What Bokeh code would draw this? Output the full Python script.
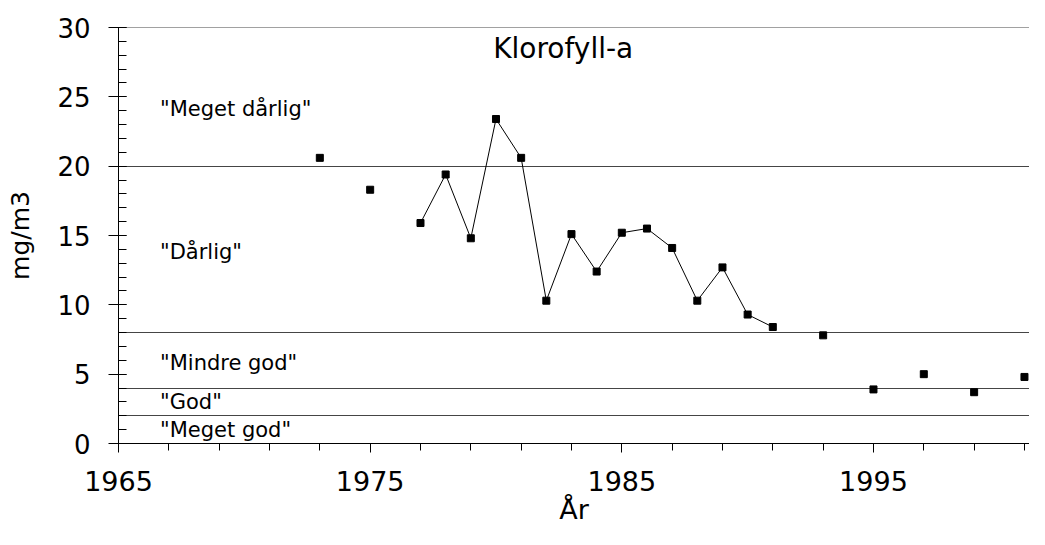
import math
from bokeh.plotting import figure
from bokeh.models import FixedTicker, ColumnDataSource, Range1d, SingleIntervalTicker
from bokeh.core.properties import value
from bokeh.embed import file_html
from bokeh.resources import INLINE

# ---- data ----
years = [1973, 1975, 1977, 1978, 1979, 1980, 1981, 1982, 1983, 1984, 1985,
         1986, 1987, 1988, 1989, 1990, 1991, 1993, 1995, 1997, 1999, 2001]
chl = [20.6, 18.3, 15.9, 19.4, 14.8, 23.4, 20.6, 10.3, 15.1, 12.4, 15.2,
       15.5, 14.1, 10.3, 12.7, 9.3, 8.4, 7.8, 3.9, 5.0, 3.7, 4.8]

x_major_ticks = [1965, 1975, 1985, 1995]
x_minor_ticks = list(range(1965, 2003, 2))

class_limits = [2, 4, 8, 20, 30]
class_names = ['"Meget dårlig"', '"Dårlig"', '"Mindre god"', '"God"', '"Meget god"']
class_label_y = [24.1, 13.8, 5.8, 3.0, 1.0]

title_text = "Klorofyll-a"
x_label = "År"
y_label = "mg/m3"

FONT = "DejaVu Sans"

p = figure(width=1029, height=529, output_backend="svg", toolbar_location=None,
           x_range=Range1d(1965, 2001.2), y_range=Range1d(0, 30),
           min_border_left=118, min_border_top=27, min_border_right=0,
           min_border_bottom=86)
p.outline_line_color = None
p.xgrid.visible = False
p.ygrid.visible = False
p.background_fill_color = "white"
p.border_fill_color = "white"

# class boundaries
p.hspan(y=class_limits, line_color="#454545", line_width=1)

# connected line only for consecutive years
lx, ly = [], []
for i, (yr, v) in enumerate(zip(years, chl)):
    if i > 0 and yr - years[i - 1] > 1:
        lx.append(math.nan)
        ly.append(math.nan)
    lx.append(yr)
    ly.append(v)
p.line(lx, ly, line_color="black", line_width=1)
p.scatter(years, chl, marker="square", size=7, color="black")

# class labels
src = ColumnDataSource(dict(x=[1966.65] * len(class_names), y=class_label_y, t=class_names))
p.text(x="x", y="y", text="t", source=src, text_font=value(FONT),
       text_font_size="21px", text_baseline="middle", text_align="left", text_color="black")

# title inside plot
p.text(x=[1982.67], y=[28.45], text=[title_text], text_font=value(FONT),
       text_font_size="28px", text_baseline="middle", text_align="center", text_color="black")

# axes
xa = p.xaxis[0]
xa.ticker = FixedTicker(ticks=x_major_ticks, minor_ticks=x_minor_ticks)
xa.axis_label = x_label
xa.axis_line_color = "black"
xa.major_tick_line_color = "black"
xa.minor_tick_line_color = "black"
xa.major_tick_in = 0
xa.major_tick_out = 9
xa.minor_tick_in = 0
xa.minor_tick_out = 7
xa.major_label_text_font = FONT
xa.major_label_text_font_size = "27px"
xa.major_label_text_color = "black"
xa.major_label_standoff = 18
xa.axis_label_text_font = FONT
xa.axis_label_text_font_size = "27px"
xa.axis_label_text_font_style = "normal"
xa.axis_label_text_color = "black"
xa.axis_label_standoff = 0

ya = p.yaxis[0]
ya.ticker = SingleIntervalTicker(interval=5, num_minor_ticks=5)
ya.axis_label = y_label
ya.axis_line_color = "black"
ya.major_tick_line_color = "black"
ya.minor_tick_line_color = "black"
ya.major_tick_in = 8
ya.major_tick_out = 10
ya.minor_tick_in = 8
ya.minor_tick_out = 0
ya.major_label_text_font = FONT
ya.major_label_text_font_size = "26px"
ya.major_label_text_color = "black"
ya.major_label_standoff = 18
ya.axis_label_text_font = FONT
ya.axis_label_text_font_size = "25px"
ya.axis_label_text_font_style = "normal"
ya.axis_label_text_color = "black"
ya.axis_label_standoff = 19

open("out.html", "w").write(file_html(p, INLINE))
